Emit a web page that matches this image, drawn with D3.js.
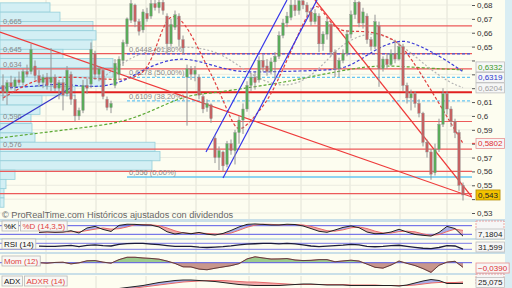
<!DOCTYPE html>
<html><head><meta charset="utf-8">
<script src="https://cdn.jsdelivr.net/npm/d3@7"></script>
<style>
html,body{margin:0;padding:0;background:#fdfdf0;}
svg{display:block;font-family:"Liberation Sans",Arial,sans-serif;}
</style></head><body>
<div id="chart"></div>
<script>
var svgWidth = 512;
var svgHeight = 288;
var plotRight = 472;

// daily bars
var barOpen = [.622,.617,.624,.621,.626,.624,.632,.632,.636,.629,.624,.628,.624,.628,.620,.624,.616,.630,.612,.600,
  .604,.622,.623,.645,.630,.633,.612,.606,.622,.630,.640,.652,.669,.680,.668,.662,.674,.672,.681,.678,
  .682,.672,.652,.664,.672,.655,.628,.634,.630,.628,.614,.606,.608,.584,.570,.574,.565,.580,.575,.588,
  .597,.605,.622,.628,.626,.640,.636,.632,.639,.643,.658,.667,.671,.680,.676,.683,.680,.675,.668,.672,
  .652,.659,.666,.646,.634,.640,.645,.659,.673,.682,.667,.672,.655,.650,.665,.634,.641,.637,.645,.641,
  .650,.622,.613,.616,.609,.602,.581,.574,.559,.576,.594,.616,.605,.596,.588,.550];
var barHigh = [.630,.626,.629,.628,.632,.634,.637,.652,.640,.633,.630,.631,.649,.630,.626,.627,.636,.632,.615,.606,
  .626,.627,.653,.647,.636,.635,.614,.611,.641,.643,.655,.671,.684,.681,.670,.677,.678,.684,.685,.684,
  .685,.674,.670,.676,.674,.658,.637,.636,.636,.630,.616,.612,.609,.586,.578,.575,.582,.583,.590,.600,
  .609,.625,.631,.632,.643,.644,.641,.642,.646,.661,.670,.675,.684,.686,.686,.687,.682,.678,.677,.674,
  .661,.671,.667,.648,.642,.648,.662,.676,.684,.683,.678,.674,.657,.673,.668,.643,.645,.648,.655,.653,
  .652,.624,.619,.618,.612,.603,.583,.576,.580,.598,.620,.618,.607,.598,.590,.552];
var barLow = [.611,.608,.619,.618,.622,.622,.628,.630,.626,.621,.620,.619,.618,.618,.612,.604,.614,.608,.596,.597,
  .602,.616,.620,.626,.625,.612,.604,.602,.620,.626,.636,.650,.667,.664,.658,.660,.668,.670,.676,.674,
  .673,.645,.650,.662,.650,.645,.593,.626,.625,.612,.602,.603,.595,.566,.561,.560,.563,.572,.565,.580,
  .587,.603,.618,.619,.624,.632,.629,.630,.626,.641,.656,.664,.669,.672,.673,.677,.672,.665,.666,.646,
  .647,.655,.643,.628,.628,.638,.643,.656,.670,.664,.663,.652,.647,.648,.621,.632,.634,.636,.638,.640,
  .618,.609,.604,.606,.599,.578,.570,.554,.557,.574,.592,.601,.592,.584,.546,.539];
var barClose = [.617,.624,.621,.626,.624,.632,.630,.648,.629,.624,.628,.622,.628,.620,.624,.615,.633,.612,.600,.604,
  .622,.620,.648,.630,.634,.614,.606,.609,.638,.641,.653,.670,.681,.668,.661,.675,.670,.681,.678,.682,
  .676,.652,.666,.673,.655,.649,.634,.630,.633,.615,.605,.609,.598,.570,.575,.564,.580,.575,.588,.597,
  .605,.622,.628,.624,.640,.635,.632,.639,.643,.658,.667,.672,.680,.676,.683,.680,.675,.668,.674,.652,
  .659,.668,.646,.634,.640,.645,.659,.673,.682,.667,.675,.655,.650,.668,.634,.641,.637,.645,.641,.650,
  .622,.613,.616,.609,.602,.581,.574,.558,.576,.594,.616,.605,.596,.588,.550,.543];

// month separators (bar positions)
var monthBreaks = [10.75, 23.25, 35.75, 48.25, 61.5, 74.5, 86.75, 99.25, 111];

// price axis
var priceTicks = [0.68,0.67,0.66,0.65,0.64,0.63,0.62,0.61,0.60,0.59,0.58,0.57,0.56,0.55,0.54,0.53];

// volume by price
var vpPrice = [.6782,.6715,.6648,.6581,.6514,.6447,.6380,.6313,.6246,.6179,.6112,.6045,.5978,.5911,.5844,.5777,.5710,.5643,.5576,.5509,.5442,.5375];
var vpVolume = [50,60,93,96,92,63,113,113,105,75,42,40,31,32,35,155,160,152,15,6,4,4];

// support / resistance
var srLevels = [0.665, 0.645, 0.634, 0.617, 0.596, 0.576, 0.560, 0.544];
var srLabelled = [0.665, 0.645, 0.634, 0.596, 0.576];

// fibonacci retracement
var fibStartBar = 31;
var fibLevels = [0.6448, 0.6278, 0.6109, 0.556];
var fibPct = [61.8, 50.0, 38.2, 0.0];

// trend lines [bar, price]
var trendRed1 = [[-0.75, 0.6605], [117.25, 0.5415]];
var trendRed2 = [[78, 0.6836], [117.25, 0.5415]];
var trendBlue1 = [[50.75, 0.574], [71, 0.6836]];
var trendBlue2 = [[55, 0.5552], [78.5, 0.6836]];
var trendBlue3 = [[-0.75, 0.5899], [17.25, 0.6209]];

// averages (bar, value)
var maRedBar = [0,4.25,9.25,16,21.75,28,33,36,38.5,40.25,42,44.25,46.75,49.25,51.75,54.25,56.75,58.75,61.75,64.25,66.75,70.5,74.25,76.75,78.75,81.25,84.25,89.25,93.75,98,100.5,104.25,109.25,115];
var maRedVal = [.613,.6202,.6274,.6281,.6274,.6259,.6274,.6331,.6512,.6656,.6728,.6706,.6605,.6461,.6317,.6166,.5993,.5877,.5956,.6043,.6137,.6367,.662,.6764,.6814,.6692,.6605,.6613,.6598,.6548,.6476,.6317,.6079,.5802];
var maBlueBar = [-0.75,6.75,14.25,20.5,26.75,31.75,36.75,43.25,48,53.75,58.75,65.75,74.25,81.75,85.5,89.25,93,96.75,100.5,104.25,109.25,115];
var maBlueVal = [.6201,.6209,.6237,.6209,.6216,.6274,.636,.6418,.6403,.6353,.6317,.6317,.6324,.6331,.6346,.6403,.6476,.6526,.6548,.6504,.6432,.6319];
var maGreenBar = [-0.75,9.25,19.25,29.25,36.75,45.5,53,62.5,70.75,79,88.25,95,105,115];
var maGreenVal = [.5841,.5877,.5913,.5949,.6028,.6151,.6166,.6209,.6245,.6295,.6346,.6367,.6346,.6332];
var maGrayBar = [24.25,30.5,36.75,43,48,53.75,58.75,64.25,70.75,76.75,81.75,85.5,92.5,99.25,106,111.75,115];
var maGrayVal = [.6259,.6403,.6476,.6497,.6497,.6461,.6367,.6259,.6202,.6274,.6425,.6533,.662,.6526,.6353,.6238,.6204];

// indicators, every second bar from bar 9
var indBar = d3.range(9, 116, 2);
var stochK = [33,38,34,36,45,29,64,75,54,40,82,90,89,85,84,71,38,22,31,24,33,21,15,26,47,71,89,92,89,85,85,90,88,78,60,41,34,50,68,78,66,36,24,26,36,55,36,19,13,8,33,75,60,7.1804];
var stochD = [35,35,35,36,38,37,46,56,64,56,59,71,87,88,86,80,64,44,30,26,29,26,23,21,29,48,69,84,90,89,86,87,88,85,75,60,45,42,51,65,71,60,42,29,29,39,42,37,23,13,18,39,56,47];
var rsi = [51,49,50,53,56,48,56,60,55,52,63,68,70,69,65,61,55,49,50,50,44,42,45,48,53,60,64,67,70,70,66,69,66,59,52,48,51,55,58,63,60,50,47,49,55,57,50,43,37,34,42,54,52,31.599];
var mom = [0,-.004,.002,.004,-.010,-.001,.016,.018,.005,-.004,.026,.046,.046,.040,.036,.030,.014,-.006,-.035,-.036,-.054,-.060,-.047,-.036,-.025,-.008,.032,.050,.040,.031,.032,.035,.023,.018,.020,.026,.026,.008,.015,.021,.014,-.012,-.039,-.046,-.020,.014,-.006,-.024,-.050,-.082,-.022,.005,.012,-.039];
var adx = [12,12,11,11,12,12,13,14,14,14,15,17,19,21,24,27,29,31,32,32,31,30,29,27,25,23,22,21,21,21,21,22,23,24,24,23,22,22,22,21,21,21,21,21,21,20,22,26,30,33,31,25,25,25.075];
var adxr = [13,13,12,12,12,12,12,13,13,14,14,15,16,18,20,22,24,26,28,29,30,31,31,31,30,29,28,28,27,26,25,24,23,23,23,23,23,23,23,22,22,22,22,21,21,21,21,22,24,26,27,27,27,28];

var loc = d3.formatLocale({decimal: ",", thousands: ".", grouping: [3], currency: ["", "€"]});

var svg = d3.select("#chart").append("svg")
  .attr("width", svgWidth).attr("height", svgHeight);

var defs = svg.append("defs");

svg.append("rect").attr("width", svgWidth).attr("height", svgHeight).attr("fill", "#d9edf3");
svg.append("rect").attr("width", 505).attr("height", svgHeight).attr("fill", "#fdfdf0");

var x = d3.scaleLinear().domain([0, 115]).range([3, 463]);
var y = d3.scaleLinear().domain([0.53, 0.68]).range([213, 5]);

// panels
var panels = {
  main: [0, 219],
  stoch: [222, 238],
  rsi: [240, 252],
  mom: [254, 273],
  adx: [276, 300]
};
var sepColor = "#c9dfe8";
[219, 238, 252, 273].forEach(function(v) {
  svg.append("rect").attr("x", 0).attr("y", v).attr("width", 505)
    .attr("height", v == 219 ? 3 : 2).attr("fill", sepColor);
});

Object.keys(panels).forEach(function(k) {
  defs.append("clipPath").attr("id", "clip-" + k).append("rect")
    .attr("x", 0).attr("y", panels[k][0]).attr("width", plotRight)
    .attr("height", panels[k][1] - panels[k][0]);
});

// vertical grid
Object.keys(panels).forEach(function(k) {
  svg.append("g").selectAll("line").data(monthBreaks).enter().append("line")
    .attr("x1", function(d) { return x(d); }).attr("x2", function(d) { return x(d); })
    .attr("y1", panels[k][0]).attr("y2", panels[k][1])
    .attr("stroke", "#e2e2d6").attr("stroke-width", 1);
});

var main = svg.append("g").attr("clip-path", "url(#clip-main)");

// horizontal grid
main.selectAll("line.hg").data(priceTicks).enter().append("line")
  .attr("x1", 0).attr("x2", plotRight)
  .attr("y1", function(d) { return y(d); }).attr("y2", function(d) { return y(d); })
  .attr("stroke", "#ebebe0");

// volume profile
var vx = d3.scaleLinear().domain([0, 160]).range([0, 160]);
var vpStep = vpPrice[0] - vpPrice[1];
main.selectAll("rect.vp").data(vpPrice).enter().append("rect")
  .attr("x", 0)
  .attr("y", function(d) { return y(d + vpStep / 2); })
  .attr("width", function(d, i) { return vx(vpVolume[i]); })
  .attr("height", function(d) { return y(d - vpStep / 2) - y(d + vpStep / 2); })
  .attr("fill", "#d3eff4").attr("stroke", "#95cfda").attr("stroke-width", 0.8);

// support / resistance
main.selectAll("line.sr").data(srLevels).enter().append("line")
  .attr("x1", 0).attr("x2", plotRight)
  .attr("y1", function(d) { return y(d); }).attr("y2", function(d) { return y(d); })
  .attr("stroke", function(d) { return d == 0.617 ? "#e02020" : "#ec5a5a"; })
  .attr("stroke-width", function(d) { return d == 0.617 ? 2 : 1.2; });

main.selectAll("text.sr").data(srLabelled).enter().append("text")
  .attr("x", 3).attr("y", function(d) { return y(d) - 2; })
  .attr("font-size", 7.5).attr("fill", "#8a8a8a")
  .text(function(d) { return loc.format(".3f")(d); });

// fibonacci
main.selectAll("line.fib").data(fibLevels).enter().append("line")
  .attr("x1", x(fibStartBar)).attr("x2", plotRight)
  .attr("y1", function(d) { return y(d); }).attr("y2", function(d) { return y(d); })
  .attr("stroke", function(d, i) { return i == 0 ? "#3a5ae6" : "#66c6f2"; })
  .attr("stroke-width", function(d, i) { return i == 3 ? 1.5 : 1.2; })
  .attr("stroke-dasharray", function(d, i) { return i == 3 ? null : "3,2"; });

main.selectAll("text.fib").data(fibLevels).enter().append("text")
  .attr("x", x(fibStartBar) + 2).attr("y", function(d) { return y(d) - 2; })
  .attr("font-size", 7.5).attr("fill", "#8a8a8a")
  .text(function(d, i) {
    return loc.format(".4~f")(d) + " (" + loc.format(".2f")(fibPct[i]) + "%)";
  });

// averages
function drawMA(bars, vals, color, dash) {
  var pts = bars.map(function(b, i) { return [x(b), y(vals[i])]; });
  main.append("path").attr("d", d3.line().curve(d3.curveBasis)(pts))
    .attr("fill", "none").attr("stroke", color).attr("stroke-width", 1.2)
    .attr("stroke-dasharray", dash);
}
drawMA(maGreenBar, maGreenVal, "#5aa832", "3,2");
drawMA(maGrayBar, maGrayVal, "#b4b4b4", "2,2");
drawMA(maBlueBar, maBlueVal, "#3b3bd8", "3,2");
drawMA(maRedBar, maRedVal, "#e04040", "3,2");

// trend lines
function drawTrend(pts, color) {
  main.append("line")
    .attr("x1", x(pts[0][0])).attr("y1", y(pts[0][1]))
    .attr("x2", x(pts[1][0])).attr("y2", y(pts[1][1]))
    .attr("stroke", color).attr("stroke-width", 1.2);
}
drawTrend(trendRed1, "#ee3a3a");
drawTrend(trendRed2, "#ee3a3a");
drawTrend(trendBlue1, "#3535e8");
drawTrend(trendBlue2, "#3535e8");
drawTrend(trendBlue3, "#3535c8");

// candles
var candles = main.selectAll("g.candle").data(barClose).enter().append("g");
candles.append("line")
  .attr("x1", function(d, i) { return x(i); }).attr("x2", function(d, i) { return x(i); })
  .attr("y1", function(d, i) { return y(barHigh[i]); })
  .attr("y2", function(d, i) { return y(barLow[i]); })
  .attr("stroke", "#949494").attr("stroke-width", 1);
candles.append("rect")
  .attr("x", function(d, i) { return x(i) - 1.2; })
  .attr("width", 2.4)
  .attr("y", function(d, i) { return y(Math.max(barOpen[i], d)); })
  .attr("height", function(d, i) { return Math.max(1, Math.abs(y(barOpen[i]) - y(d))); })
  .attr("fill", function(d, i) { return d >= barOpen[i] ? "#5aab5a" : "#c46262"; })
  .attr("stroke", "#909090").attr("stroke-width", 0.4);

// value boxes on the price scale
var maBoxes = [
  {v: maGreenVal[maGreenVal.length - 1], c: "#3a9a2a", f: "#f6f6f6", b: "#bdbdbd"},
  {v: maBlueVal[maBlueVal.length - 1], c: "#2a3ad0", f: "#f6f6f6", b: "#bdbdbd"},
  {v: maGrayVal[maGrayVal.length - 1], c: "#a0a0a0", f: "#f6f6f6", b: "#bdbdbd"}
];
var pos = maBoxes.map(function(d) { return y(d.v); });
pos[0] -= 3;
for (var i = 1; i < pos.length; i++) pos[i] = Math.max(pos[i], pos[i - 1] + 10.5);
maBoxes.forEach(function(d, i) { d.y = pos[i]; d.label = loc.format(".4f")(d.v); });
var lastMaRed = maRedVal[maRedVal.length - 1];
var lastClose = barClose[barClose.length - 1];
var priceBoxes = maBoxes.concat([
  {v: lastMaRed, y: y(lastMaRed), label: loc.format(".4f")(lastMaRed), c: "#e03030", f: "#f6f6f6", b: "#e89090"},
  {v: lastClose, y: y(lastClose), label: loc.format(".3f")(lastClose), c: "#222", f: "#f2c200", b: "#b08a00"}
]);

// price axis (labels under a value box are hidden)
var visibleTicks = priceTicks.filter(function(t) {
  return priceBoxes.every(function(b) { return Math.abs(y(t) - b.y) > 9; });
});
var yAxis = d3.axisRight(y).tickValues(priceTicks).tickSize(3).tickPadding(2)
  .tickFormat(function(d) { return visibleTicks.indexOf(d) >= 0 ? loc.format(".2~f")(d) : ""; });
var ax = svg.append("g").attr("transform", "translate(" + plotRight + ",0)").call(yAxis);
ax.select(".domain").remove();
ax.selectAll("line").attr("stroke", "#555");
ax.selectAll("text").attr("font-size", 8).attr("fill", "#333")
  .attr("font-family", "Liberation Sans, Arial, sans-serif");

function valueBox(yPos, label, color, fill, border, dashed) {
  var g = svg.append("g").attr("transform", "translate(476," + yPos + ")");
  var t = g.append("text").attr("x", 2).attr("dy", "0.35em").attr("font-size", 8)
    .attr("fill", color).text(label);
  var w = label.trim() ? t.node().getComputedTextLength() + 4 : 28;
  g.insert("rect", "text").attr("x", 0).attr("y", -5).attr("width", w).attr("height", 10)
    .attr("fill", fill).attr("stroke", border).attr("stroke-width", 0.8)
    .attr("stroke-dasharray", dashed ? "2,1" : null);
  return g;
}
svg.append("line").attr("x1", 472).attr("x2", 475)
  .attr("y1", y(lastMaRed)).attr("y2", y(lastMaRed)).attr("stroke", "#e04040");
priceBoxes.forEach(function(d) { valueBox(d.y, d.label, d.c, d.f, d.b); });

// footer
svg.append("text").attr("x", 2).attr("y", 218).attr("font-size", 9.2).attr("fill", "#666")
  .text("\u00a9 ProRealTime.com  Hist\u00f3ricos ajustados con dividendos");

// indicator helpers
function bandFill(g, key, a, b, ys, colA, colB) {
  var top = panels[key][0], bot = panels[key][1];
  var idx = d3.range(indBar.length);
  var area = d3.area().x(function(j) { return x(indBar[j]); })
    .y0(function(j) { return ys(a[j]); }).y1(function(j) { return ys(b[j]); });
  var above = d3.area().x(function(j) { return x(indBar[j]); })
    .y0(top - 5).y1(function(j) { return ys(b[j]); });
  var below = d3.area().x(function(j) { return x(indBar[j]); })
    .y0(function(j) { return ys(b[j]); }).y1(bot + 5);
  defs.append("clipPath").attr("id", key + "-above").append("path").attr("d", above(idx));
  defs.append("clipPath").attr("id", key + "-below").append("path").attr("d", below(idx));
  g.append("g").attr("clip-path", "url(#" + key + "-above)").append("path")
    .attr("d", area(idx)).attr("fill", colA);
  g.append("g").attr("clip-path", "url(#" + key + "-below)").append("path")
    .attr("d", area(idx)).attr("fill", colB);
}
function drawLine(g, vals, ys, color, w) {
  g.append("path").attr("d", d3.line().x(function(j) { return x(indBar[j]); })
    .y(function(j) { return ys(vals[j]); })(d3.range(indBar.length)))
    .attr("fill", "none").attr("stroke", color).attr("stroke-width", w);
}
function hLine(g, yPos, color) {
  g.append("line").attr("x1", 0).attr("x2", plotRight).attr("y1", yPos).attr("y2", yPos)
    .attr("stroke", color).attr("stroke-width", 1);
}
function panelLabel(yPos, parts) {
  var xPos = 2;
  parts.forEach(function(p) {
    var g = svg.append("g").attr("transform", "translate(" + xPos + "," + yPos + ")");
    var t = g.append("text").attr("x", 2).attr("dy", "0.35em").attr("font-size", 8)
      .attr("fill", p.c).text(p.t);
    var w = t.node().getComputedTextLength() + 4;
    g.insert("rect", "text").attr("x", 0).attr("y", -5).attr("width", w).attr("height", 10)
      .attr("fill", "#f8f8f4").attr("stroke", "#b8b8b8").attr("stroke-width", 0.8);
    xPos += w + 2;
  });
}

// stochastic
var yStoch = d3.scaleLinear().domain([0, 100]).range([237.2, 222.8]);
var gs = svg.append("g").attr("clip-path", "url(#clip-stoch)");
bandFill(gs, "stoch", stochK, stochD, yStoch, "#a9aee8", "#eeaaaa");
hLine(gs, yStoch(80), "#5a5ae6");
hLine(gs, yStoch(20), "#5a5ae6");
drawLine(gs, stochD, yStoch, "#e86a6a", 1);
drawLine(gs, stochK, yStoch, "#222", 1);
panelLabel(226, [{t: "%K", c: "#111"}, {t: "%D (14,3,5)", c: "#e04040"}]);
valueBox(226, " ", "#e03030", "#f6f6f6", "#e89090", true);
valueBox(234, loc.format(".4f")(stochK[stochK.length - 1]), "#222", "#f6f6f6", "#bdbdbd");

// rsi
var yRsi = d3.scaleLinear().domain([0, 100]).range([253.8, 238.8]);
var gr = svg.append("g").attr("clip-path", "url(#clip-rsi)");
hLine(gr, yRsi(70), "#7a7ae8");
hLine(gr, yRsi(30), "#7a7ae8");
drawLine(gr, rsi, yRsi, "#1a1a3a", 1.3);
panelLabel(244, [{t: "RSI (14)", c: "#111"}]);
valueBox(247, loc.format(".3f")(rsi[rsi.length - 1]), "#222", "#f6f6f6", "#bdbdbd");

// momentum
var yMom = d3.scaleLinear().domain([0, 0.1]).range([262.7, 250.9]);
var gm = svg.append("g").attr("clip-path", "url(#clip-mom)");
var momArea = d3.area().x(function(j) { return x(indBar[j]); })
  .y0(yMom(0)).y1(function(j) { return yMom(mom[j]); });
defs.append("clipPath").attr("id", "mom-up").append("rect")
  .attr("x", 0).attr("y", 250).attr("width", plotRight).attr("height", yMom(0) - 250);
defs.append("clipPath").attr("id", "mom-dn").append("rect")
  .attr("x", 0).attr("y", yMom(0)).attr("width", plotRight).attr("height", 30);
gm.append("g").attr("clip-path", "url(#mom-up)").append("path")
  .attr("d", momArea(d3.range(indBar.length))).attr("fill", "#9ccc8c");
gm.append("g").attr("clip-path", "url(#mom-dn)").append("path")
  .attr("d", momArea(d3.range(indBar.length))).attr("fill", "#c8968c");
hLine(gm, yMom(0), "#5a5ae6");
drawLine(gm, mom, yMom, "#ec7070", 1);
drawLine(gm, mom, yMom, "#333", 0.8);
panelLabel(261, [{t: "Mom (12)", c: "#e04040"}]);
valueBox(268, loc.format(".4f")(mom[mom.length - 1]), "#e03030", "#f6f6f6", "#e89090");

// adx
var yAdx = d3.scaleLinear().domain([0, 40]).range([296, 276]);
var ga = svg.append("g").attr("clip-path", "url(#clip-adx)");
bandFill(ga, "adx", adx, adxr, yAdx, "#a9aee8", "#eeaaaa");
drawLine(ga, adxr, yAdx, "#e86a6a", 1);
drawLine(ga, adx, yAdx, "#222", 1);
panelLabel(281, [{t: "ADX", c: "#111"}, {t: "ADXR (14)", c: "#e04040"}]);
valueBox(279, " ", "#e03030", "#f6f6f6", "#e89090", true);
valueBox(282.5, loc.format(".3f")(adx[adx.length - 1]), "#222", "#f6f6f6", "#bdbdbd");
</script>
</body></html>
